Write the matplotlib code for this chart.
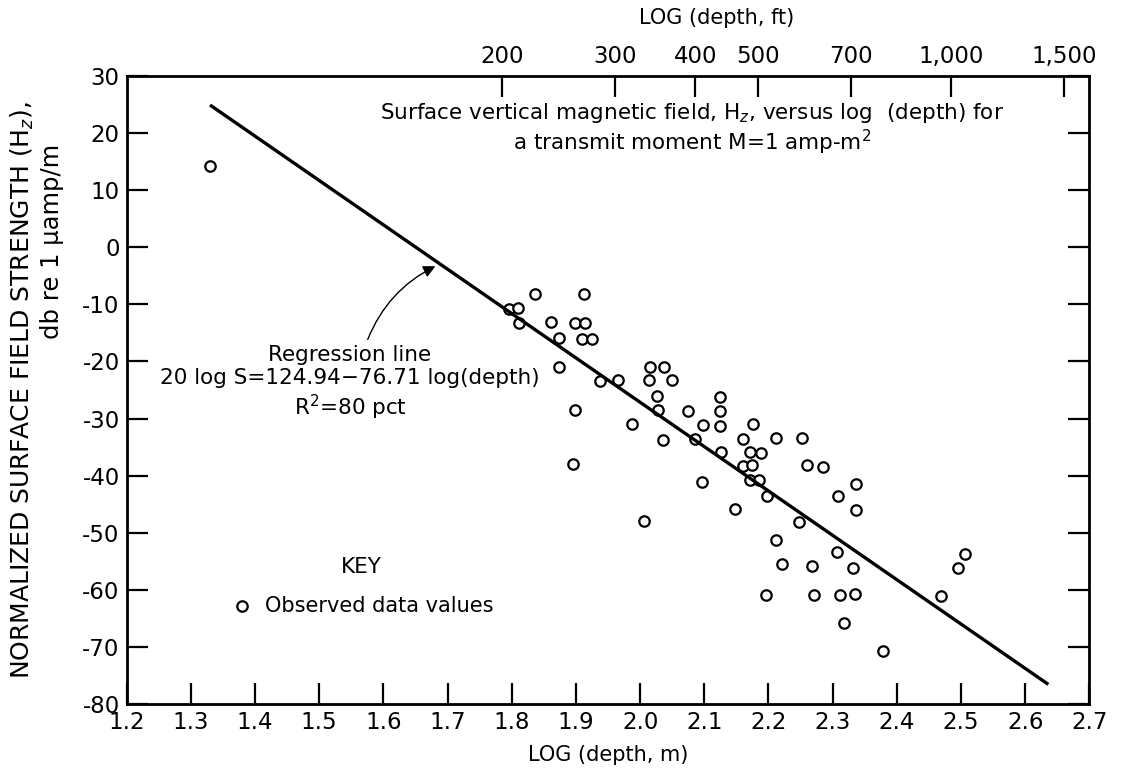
import numpy as np
import matplotlib
matplotlib.use("Agg")
import matplotlib.pyplot as plt

# Observed data: log(depth, m) and field strength (db re 1 uamp/m)
log_depth = [1.330, 1.837, 1.913, 1.795, 1.809, 1.811, 1.861, 1.899, 1.914, 1.874,
             1.910, 1.925, 1.873, 1.937, 1.965, 1.898, 1.896, 1.987, 2.015, 2.038,
             2.014, 2.049, 2.027, 2.028, 2.035, 2.074, 2.098, 2.085, 2.096, 2.006,
             2.124, 2.124, 2.125, 2.126, 2.148, 2.176, 2.160, 2.172, 2.189, 2.160,
             2.174, 2.172, 2.186, 2.197, 2.211, 2.253, 2.260, 2.285, 2.337, 2.309,
             2.336, 2.248, 2.212, 2.221, 2.268, 2.307, 2.332, 2.311, 2.335, 2.318,
             2.379, 2.469, 2.496, 2.507, 2.196, 2.271]
field_db = [14.3, -8.2, -8.2, -10.8, -10.6, -13.3, -13.1, -13.3, -13.2, -15.9,
            -16.0, -16.0, -21.0, -23.5, -23.3, -28.5, -38.0, -30.9, -21.0, -20.9,
            -23.3, -23.3, -26.1, -28.5, -33.8, -28.6, -31.1, -33.5, -41.2, -48.0,
            -26.2, -28.6, -31.3, -35.9, -45.9, -30.9, -33.5, -35.9, -36.0, -38.3,
            -38.1, -40.8, -40.8, -43.5, -33.4, -33.4, -38.1, -38.4, -41.4, -43.6,
            -46.1, -48.2, -51.2, -55.5, -55.9, -53.4, -56.1, -60.9, -60.8, -65.8,
            -70.7, -61.0, -56.2, -53.7, -60.9, -60.9]

# Regression line as drawn (end points)
line_x = [1.332, 2.634]
line_y = [24.75, -76.4]

x_ticks = [1.2, 1.3, 1.4, 1.5, 1.6, 1.7, 1.8, 1.9, 2.0, 2.1, 2.2, 2.3, 2.4, 2.5, 2.6, 2.7]
x_ticklabels = ["1.2", "1.3", "1.4", "1.5", "1.6", "1.7", "1.8", "1.9", "2.0", "2.1",
                "2.2", "2.3", "2.4", "2.5", "2.6", "2.7"]
y_ticks = [30, 20, 10, 0, -10, -20, -30, -40, -50, -60, -70, -80]
y_ticklabels = ["30", "20", "10", "0", "-10", "-20", "-30", "-40", "-50", "-60", "-70", "-80"]
ft_ticks = [200, 300, 400, 500, 700, 1000, 1500]
ft_labels = ["200", "300", "400", "500", "700", "1,000", "1,500"]
FT_TO_M = 0.3048

plt.rcParams['font.family'] = ['DejaVu Sans']
TICK_FS = 16.5
fig = plt.figure(figsize=(11.25, 7.7), dpi=100)
ax = fig.add_axes([0.1126, 0.0857, 0.8557, 0.8156])

ax.plot(log_depth, field_db, linestyle='none', marker='o', markersize=7.5,
        markerfacecolor='white', markeredgecolor='black', markeredgewidth=1.6)
ax.plot(line_x, line_y, color='black', lw=2.4)

ax.set_xlim(1.2, 2.7)
ax.set_ylim(-80, 30)
ax.set_xticks(x_ticks)
ax.set_xticklabels(x_ticklabels)
ax.set_yticks(y_ticks)
ax.set_yticklabels(y_ticklabels)
ax.tick_params(axis='both', direction='in', length=15, width=1.6, labelsize=TICK_FS,
               right=True, top=False, pad=5)
for s in ax.spines.values():
    s.set_linewidth(2.0)

ax2 = ax.twiny()
ax2.set_xlim(ax.get_xlim())
ax2.set_xticks(np.log10(np.array(ft_ticks) * FT_TO_M))
ax2.set_xticklabels(ft_labels)
ax2.tick_params(axis='x', direction='in', length=15, width=1.6, labelsize=TICK_FS, pad=6)
ax2.set_xlabel("LOG (depth, ft)", fontsize=15, labelpad=14)
ax2.xaxis.set_label_coords(0.613, 1.0 + 52 / 628.0)

ax.set_xlabel("LOG (depth, m)", fontsize=15, labelpad=8)

fig.text(0.020, 1 - 390 / 770, "NORMALIZED SURFACE FIELD STRENGTH (H$_z$),", rotation=90,
         ha='center', va='center', fontsize=18)
fig.text(0.046, 1 - 241 / 770, "db re 1 \u03bcamp/m", rotation=90,
         ha='center', va='center', fontsize=17.5)

ax.text(2.081, 20.7, "Surface vertical magnetic field, H$_z$, versus log  (depth) for\n"
        "a transmit moment M=1 amp-m$^2$", ha='center', va='center', fontsize=15.5,
        linespacing=1.15)

ax.text(1.548, -23.8, "Regression line\n20 log S=124.94\u221276.71 log(depth)\nR$^2$=80 pct",
        ha='center', va='center', fontsize=15.5, linespacing=1.2)
ax.annotate("", xy=(1.685, -3.1), xytext=(1.574, -16.6),
            arrowprops=dict(arrowstyle='-|>', connectionstyle='arc3,rad=-0.2',
                            color='black', lw=1.0, mutation_scale=18))

ax.text(1.566, -56.0, "KEY", ha='center', va='center', fontsize=15.5)
ax.plot([1.38], [-62.8], linestyle='none', marker='o', markersize=7.5,
        markerfacecolor='white', markeredgecolor='black', markeredgewidth=1.6)
ax.text(1.415, -62.8, "Observed data values", ha='left', va='center', fontsize=15)

fig.savefig("out.png", dpi=100, facecolor='white')
